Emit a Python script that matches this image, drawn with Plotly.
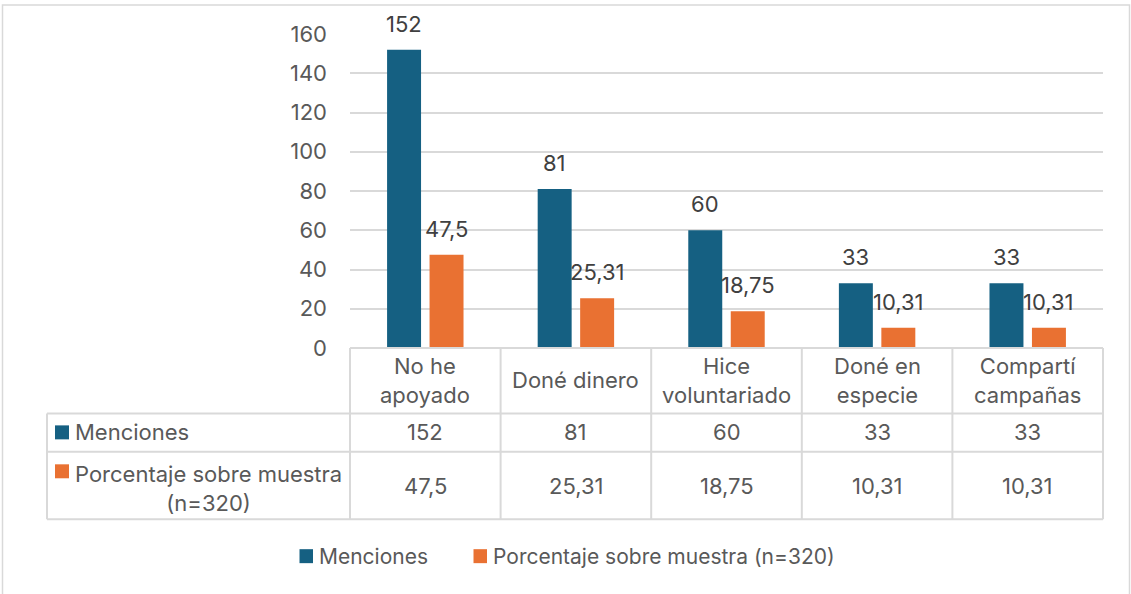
import plotly.graph_objects as go

categories = ["No he<br>apoyado", "Doné dinero", "Hice<br>voluntariado", "Doné en<br>especie", "Compartí<br>campañas"]
menciones = [152, 81, 60, 33, 33]
porcentaje = [47.5, 25.31, 18.75, 10.31, 10.31]
series_names = ["Menciones", "Porcentaje sobre muestra (n=320)"]
y_ticks = [0, 20, 40, 60, 80, 100, 120, 140, 160]

BLUE = "#156082"
ORANGE = "#E97132"
GRID = "#D9D9D9"
TXT = "#595959"
LBL = "#404040"
FONT = "Inter"
FS = 22
FS_LEG = 21

W, H = 1131, 594
L, R, T, B = 350, 1103, 34, 348.5


def px(x):
    return (x - L) / (R - L)


def py(y):
    return (B - y) / (B - T)


def fmt(v):
    s = ("%g" % v)
    return s.replace(".", ",")


xs = list(range(len(categories)))

fig = go.Figure()
fig.add_trace(go.Bar(x=xs, y=menciones, name=series_names[0], marker_color=BLUE, marker_line_width=0))
fig.add_trace(go.Bar(x=xs, y=porcentaje, name=series_names[1], marker_color=ORANGE, marker_line_width=0))

annotations = []
shapes = []

# bar value labels
slot = 0.564 / 2
for vals, sh in ((menciones, -slot / 2), (porcentaje, slot / 2)):
    for i, v in enumerate(vals):
        annotations.append(dict(x=i + sh, y=v, xref="x", yref="y", text=fmt(v), showarrow=False,
                                yanchor="bottom", yshift=11, font=dict(family=FONT, size=FS, color=LBL)))

# data table
cat_w = (R - L) / len(categories)
row_y = [348.5, 414, 452.5, 520]
tbl_left = 47
line = dict(color=GRID, width=2)
shapes.append(dict(type="line", xref="paper", yref="paper", x0=px(L), x1=px(R), y0=py(row_y[0]), y1=py(row_y[0]), line=line))
for yy in row_y[1:]:
    shapes.append(dict(type="line", xref="paper", yref="paper", x0=px(tbl_left), x1=px(R), y0=py(yy), y1=py(yy), line=line))
shapes.append(dict(type="line", xref="paper", yref="paper", x0=px(tbl_left), x1=px(tbl_left), y0=py(row_y[1]), y1=py(row_y[3]), line=line))
for i in range(len(categories) + 1):
    xx = L + i * cat_w
    shapes.append(dict(type="line", xref="paper", yref="paper", x0=px(xx), x1=px(xx), y0=py(row_y[0]), y1=py(row_y[3]), line=line))

tfont = dict(family=FONT, size=FS, color=TXT)
for i, c in enumerate(categories):
    annotations.append(dict(x=i, y=py(381), xref="x", yref="paper", text=c, showarrow=False,
                            yanchor="middle", font=tfont))
    annotations.append(dict(x=i, y=py(433), xref="x", yref="paper", text=fmt(menciones[i]), showarrow=False,
                            yanchor="middle", font=tfont))
    annotations.append(dict(x=i, y=py(486.5), xref="x", yref="paper", text=fmt(porcentaje[i]), showarrow=False,
                            yanchor="middle", font=tfont))

# row headers with colour keys
shapes.append(dict(type="rect", xref="paper", yref="paper", x0=px(55), x1=px(69), y0=py(426), y1=py(440),
                   fillcolor=BLUE, line=dict(width=0)))
shapes.append(dict(type="rect", xref="paper", yref="paper", x0=px(55), x1=px(69), y0=py(465), y1=py(479),
                   fillcolor=ORANGE, line=dict(width=0)))
annotations.append(dict(x=px(73), y=py(433), xref="paper", yref="paper", text=series_names[0], showarrow=False,
                        xanchor="left", yanchor="middle", font=tfont))
annotations.append(dict(x=px(73), y=py(489), xref="paper", yref="paper",
                        text="Porcentaje sobre muestra<br>(n=320)", align="center", showarrow=False,
                        xanchor="left", yanchor="middle", font=tfont))

# custom legend
lfont = dict(family=FONT, size=FS_LEG, color=TXT)
for name, col, sx in ((series_names[0], BLUE, 299.5), (series_names[1], ORANGE, 473.5)):
    shapes.append(dict(type="rect", xref="paper", yref="paper", x0=px(sx), x1=px(sx + 13.5), y0=py(550), y1=py(564),
                       fillcolor=col, line=dict(width=0)))
    annotations.append(dict(x=px(sx + 17), y=py(557), xref="paper", yref="paper", text=name, showarrow=False,
                            xanchor="left", yanchor="middle", font=lfont))

# outer border
shapes.append(dict(type="rect", xref="paper", yref="paper", x0=px(2.5), x1=px(1129.5), y0=py(5), y1=py(605),
                   line=dict(color=GRID, width=1.5), fillcolor="rgba(0,0,0,0)", layer="below"))

fig.update_layout(
    width=W, height=H,
    margin=dict(l=L, r=W - R, t=T, b=H - B, autoexpand=False),
    paper_bgcolor="white", plot_bgcolor="white",
    barmode="group", bargap=0.436, bargroupgap=0.2,
    font=dict(family=FONT, size=FS, color=TXT),
    xaxis=dict(range=[-0.5, len(categories) - 0.5], showticklabels=False, showgrid=False,
               zeroline=False, showline=False, ticks=""),
    yaxis=dict(range=[0, 160], tickvals=y_ticks, showgrid=True, gridcolor=GRID, gridwidth=1.5,
               zeroline=False, showline=False, ticks="", ticklabelstandoff=22,
               tickfont=dict(family=FONT, size=FS, color=TXT)),
    showlegend=False,
    annotations=annotations, shapes=shapes,
)

fig.write_html("out.html")
